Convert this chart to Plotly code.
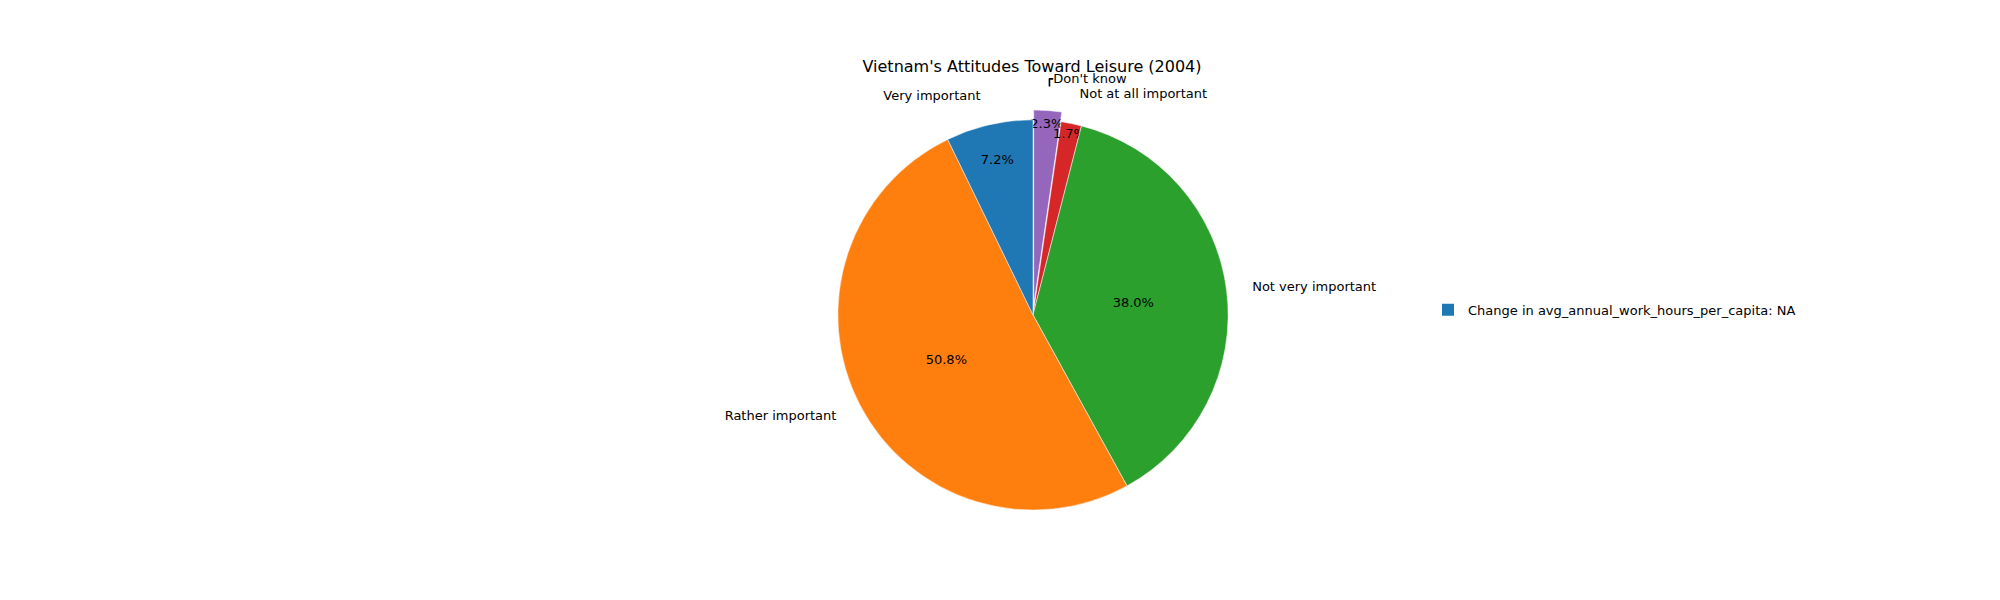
import plotly.graph_objects as go

labels = ["Very important", "Rather important", "Not very important", "Not at all important", "Don't know"]
values = [7.2, 50.8, 38.0, 1.7, 2.3]
colors = ["#1f77b4", "#ff7f0e", "#2ca02c", "#d62728", "#9467bd"]
pulls = [0, 0, 0, 0, 0.05]
legend_label = "Change in avg_annual_work_hours_per_capita: NA"

# drawn clockwise from 12 o'clock in reverse order == matplotlib counterclockwise from 90°
L, V, C, P = labels[::-1], values[::-1], colors[::-1], pulls[::-1]

font = dict(family="DejaVu Sans", size=13, color="black")
fig = go.Figure()
dom = dict(x=[0.41, 0.615], y=[0.147, 0.83])
fig.add_trace(go.Pie(labels=L, values=V, sort=False, direction="clockwise",
                     rotation=0, pull=P, marker=dict(colors=C, line=dict(color="white", width=0.5)),
                     texttemplate="%{percent:.1%}", textposition="inside", insidetextorientation="horizontal",
                     textfont=font, showlegend=False, hoverinfo="label+percent", domain=dom))
fig.add_trace(go.Scatter(x=[None], y=[None], mode="markers", name=legend_label,
                         marker=dict(symbol="square", size=12, color="#1f77b4"), showlegend=True))
fig.update_xaxes(visible=False)
fig.update_yaxes(visible=False)
fig.update_layout(width=2000, height=600, margin=dict(l=0, r=0, t=0, b=0),
                  paper_bgcolor="white", plot_bgcolor="white", font=font,
                  uniformtext=dict(minsize=13, mode="show"),
                  title=dict(text="Vietnam's Attitudes Toward Leisure (2004)", x=0.512, xanchor="center",
                             y=0.902, yanchor="middle", font=dict(family="DejaVu Sans", size=16, color="black")),
                  legend=dict(x=0.71, y=0.497, xanchor="left", yanchor="middle", font=font))
# outside category labels as a second transparent pie
fig.add_trace(go.Pie(labels=L, values=V, sort=False, direction="clockwise", rotation=0,
                     pull=P, marker=dict(colors=["rgba(0,0,0,0)"] * 5), textinfo="label",
                     textposition="outside", textfont=font, showlegend=False, hoverinfo="skip",
                     domain=dict(x=[0.36, 0.665], y=[0.11, 0.87])))
fig.write_html("out.html")
